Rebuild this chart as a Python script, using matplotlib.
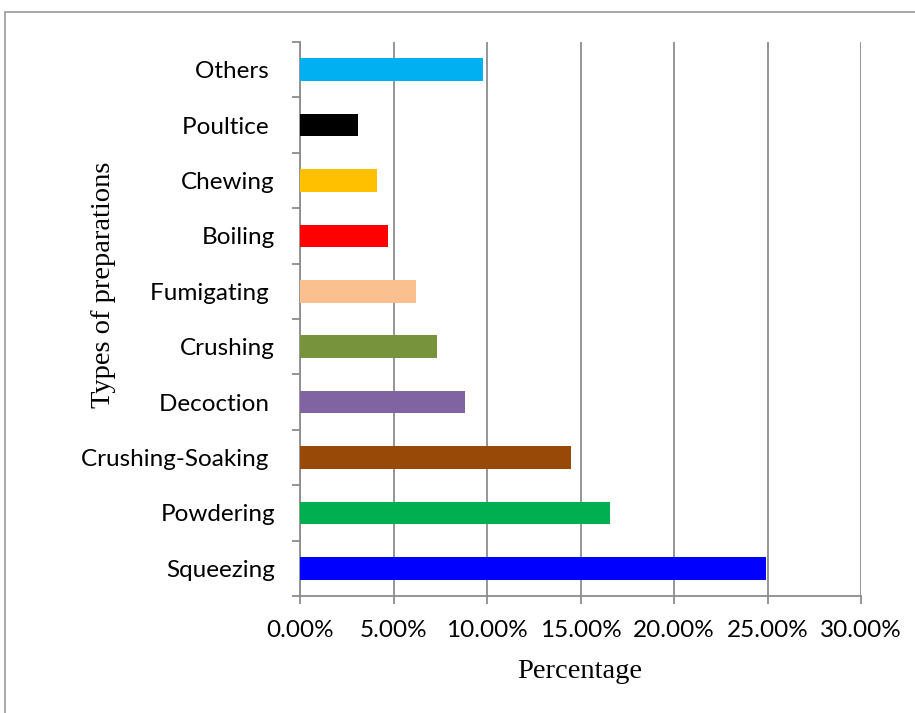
import matplotlib.pyplot as plt
from matplotlib.patches import Rectangle
from matplotlib.ticker import FuncFormatter, MultipleLocator
import numpy as np

# Data (bottom to top)
categories = ["Squeezing", "Powdering", "Crushing-Soaking ", "Decoction ", "Crushing",
              "Fumigating ", "Boiling", "Chewing", "Poultice ", "Others "]
percent = [24.9, 16.6, 14.5, 8.8, 7.3, 6.2, 4.7, 4.1, 3.1, 9.8]
colors = ["#0000FF", "#00B050", "#984807", "#8064A2", "#77933C",
          "#FAC090", "#FF0000", "#FFC000", "#000000", "#00B0F0"]

GRID = '#8c8c8c'
TICK_FONT = 'Lato'

fig = plt.figure(figsize=(9.15, 7.13), dpi=100)
ax = fig.add_axes([300 / 915, 117 / 713, 561 / 915, 554 / 713])

y = np.arange(len(categories))
ax.barh(y, percent, height=0.41, color=colors, zorder=3)

ax.set_xlim(0, 30)
ax.set_ylim(-0.5, len(categories) - 0.5)

# x axis
ax.xaxis.set_major_locator(MultipleLocator(5))
ax.xaxis.set_major_formatter(FuncFormatter(lambda v, p: f"{v:.2f}%"))
ax.grid(axis='x', color=GRID, linewidth=1.3, zorder=0)
ax.tick_params(axis='x', length=6, width=1.3, color=GRID, pad=11,
               labelsize=17.5, labelcolor='black')

# y axis: labels at centres, tick marks on category boundaries
ax.set_yticks(y)
ax.set_yticklabels(categories)
ax.set_yticks(np.arange(-0.5, len(categories)), minor=True)
ax.tick_params(axis='y', which='major', length=0, pad=18, labelsize=17.5)
ax.tick_params(axis='y', which='minor', length=6, width=1.3, color=GRID)
for lbl in ax.get_xticklabels() + ax.get_yticklabels():
    lbl.set_fontfamily(TICK_FONT)

for side in ['top', 'right']:
    ax.spines[side].set_visible(False)
for side in ['left', 'bottom']:
    ax.spines[side].set_color(GRID)
    ax.spines[side].set_linewidth(1.3)

fig.text(580 / 915, 1 - 672 / 713, "Percentage", family='Liberation Serif',
         fontsize=20.5, ha='center', va='center')
fig.text(103 / 915, 1 - 285 / 713, "Types of preparations", family='Liberation Serif',
         fontsize=20.5, ha='center', va='center', rotation=90)

# outer chart frame (only left/top visible in the reference)
fig.patches.append(Rectangle((5 / 915, -0.1), 1.0, 1.1 - 12 / 713,
                             transform=fig.transFigure, fill=False,
                             edgecolor='#999999', linewidth=1.2))

fig.savefig("out.png", dpi=100)
